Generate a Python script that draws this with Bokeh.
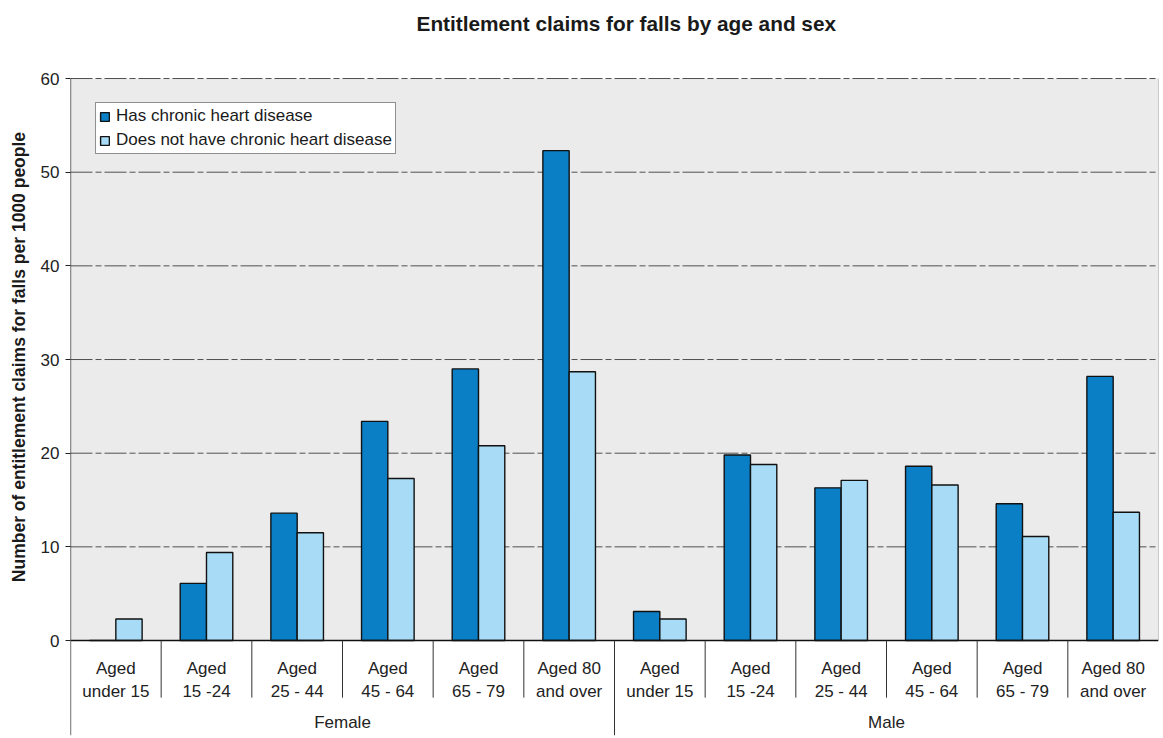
import math
from bokeh.plotting import figure
from bokeh.layouts import row
from bokeh.models import Range1d, FixedTicker, Legend, LegendItem, ColumnDataSource
from bokeh.core.properties import value
from bokeh.embed import file_html
from bokeh.resources import INLINE

# ---- data -------------------------------------------------------------
sexes = ["Female", "Male"]
age_line1 = ["Aged", "Aged", "Aged", "Aged", "Aged", "Aged 80"]
age_line2 = ["under 15", "15 -24", "25 - 44", "45 - 64", "65 - 79", "and over"]
series_names = ["Has chronic heart disease", "Does not have chronic heart disease"]

# claims per 1000 people, Female groups first, then Male
has_chd = [0.0, 6.1, 13.6, 23.4, 29.0, 52.3,
           3.1, 19.8, 16.3, 18.6, 14.6, 28.2]
no_chd = [2.3, 9.4, 11.5, 17.3, 20.8, 28.7,
          2.3, 18.8, 17.1, 16.6, 11.1, 13.7]

y_ticks = [0, 10, 20, 30, 40, 50, 60]

# ---- styling ----------------------------------------------------------
FONT = "Liberation Sans"
DARK_BLUE = "#0b7fc6"
LIGHT_BLUE = "#a8dcf6"
PLOT_BG = "#ebebeb"
INK = "#1a1a1a"

W, H = 1163, 738
CAPTION_W = 35

n_age = len(age_line1)
n_cat = n_age * len(sexes)
centers = [i + 0.5 for i in range(n_cat)]
y_top_val = max(y_ticks)

# ---- narrow strip holding the rotated y-axis caption -------------------
cap = figure(width=CAPTION_W, height=H, output_backend="svg", toolbar_location=None,
             x_range=Range1d(0, CAPTION_W), y_range=Range1d(0, H),
             x_axis_location=None, y_axis_location=None, title=None,
             min_border=0)
cap.outline_line_color = None
cap.xgrid.visible = False
cap.ygrid.visible = False
cap.text(x=[18], y=[H - 358], text=["Number of entitlement claims for falls per 1000 people"],
         angle=math.pi / 2, text_font=value(FONT), text_font_size="17.5px",
         text_font_style="bold", text_color=INK, text_align="center", text_baseline="middle")

# ---- main chart ------------------------------------------------------
# the frame reaches the top of the page (room for the heading) and the bottom
# (room for the category labels); the value area itself is 0..60
Y_MIN = -10.14
Y_MAX = 68.33
p = figure(width=W - CAPTION_W, height=H, output_backend="svg", toolbar_location=None,
           x_range=Range1d(0, n_cat), y_range=Range1d(Y_MIN, Y_MAX),
           x_axis_location=None, title=None,
           min_border_left=70 - CAPTION_W, min_border_right=5,
           min_border_top=0, min_border_bottom=3)
p.background_fill_color = "white"
p.border_fill_color = "white"
p.outline_line_color = None
p.xgrid.visible = False
p.ygrid.visible = False

# y axis: ticks and labels from Bokeh, the line itself drawn below
p.yaxis.ticker = FixedTicker(ticks=y_ticks)
p.yaxis.minor_tick_line_color = None
p.yaxis.major_tick_in = 0
p.yaxis.major_tick_out = 5
p.yaxis.major_tick_line_color = "#222222"
p.yaxis.axis_line_color = None
p.yaxis.major_label_standoff = 6
p.yaxis.major_label_text_font = FONT
p.yaxis.major_label_text_font_size = "17px"
p.yaxis.major_label_text_color = "#222222"

# grey value area
p.quad(left=0, right=n_cat, bottom=0, top=y_top_val, fill_color=PLOT_BG, line_color=None)

# horizontal gridlines
grid_vals = [t for t in y_ticks if t > 0]
p.segment(x0=[0] * len(grid_vals), y0=grid_vals, x1=[n_cat] * len(grid_vals), y1=grid_vals,
          line_color="#505050", line_width=1, line_dash="22 3 6 3")

# right edge of the value area
p.segment(x0=[n_cat], y0=[0], x1=[n_cat], y1=[y_top_val], line_color="#9a9a9a", line_width=1)

# bars
off = 0.145
bw = 0.29
src = ColumnDataSource(dict(
    x_has=[c - off for c in centers], x_no=[c + off for c in centers],
    has=has_chd, no=no_chd))
r_has = p.vbar(x="x_has", top="has", bottom=0, width=bw, source=src,
               fill_color=DARK_BLUE, line_color="#111111", line_width=1.4)
r_no = p.vbar(x="x_no", top="no", bottom=0, width=bw, source=src,
              fill_color=LIGHT_BLUE, line_color="#111111", line_width=1.4)

# zero line and the vertical axis line (runs on down past the labels)
p.segment(x0=[0], y0=[0], x1=[n_cat], y1=[0], line_color="#111111", line_width=1.6)
p.segment(x0=[0], y0=[Y_MIN], x1=[0], y1=[y_top_val], line_color="#222222", line_width=1.3)

# category dividers below the zero line
short_x = [i for i in range(1, n_cat) if i % n_age != 0]
p.segment(x0=short_x, y0=[0] * len(short_x), x1=short_x, y1=[-6.1] * len(short_x),
          line_color="#333333", line_width=1)
group_x = [i for i in range(n_age, n_cat, n_age)]
p.segment(x0=group_x, y0=[0] * len(group_x), x1=group_x, y1=[Y_MIN] * len(group_x),
          line_color="#333333", line_width=1)

# category labels (two lines) and group labels
p.text(x=centers, y=[-2.99] * n_cat, text=age_line1 * len(sexes),
       text_font=value(FONT), text_font_size="17px", text_color="#222222",
       text_align="center", text_baseline="middle")
p.text(x=centers, y=[-5.44] * n_cat, text=age_line2 * len(sexes),
       text_font=value(FONT), text_font_size="17px", text_color="#222222",
       text_align="center", text_baseline="middle")
p.text(x=[n_age * (k + 0.5) for k in range(len(sexes))], y=[-8.8] * len(sexes), text=sexes,
       text_font=value(FONT), text_font_size="17px", text_color="#222222",
       text_align="center", text_baseline="middle")

# heading
p.text(x=[6.13], y=[65.87], text=["Entitlement claims for falls by age and sex"],
       text_font=value(FONT), text_font_size="20.8px", text_font_style="bold",
       text_color=INK, text_align="center", text_baseline="alphabetic")

# legend
legend = Legend(items=[LegendItem(label=series_names[0], renderers=[r_has]),
                       LegendItem(label=series_names[1], renderers=[r_no])],
                location=(25, 581), orientation="vertical",
                padding=3, spacing=4, margin=0,
                glyph_width=11, glyph_height=11, label_standoff=6, label_height=19,
                label_text_font=FONT, label_text_font_size="17px", label_text_color=INK,
                border_line_color="#222222", border_line_width=1,
                background_fill_color="white", background_fill_alpha=1.0)
p.add_layout(legend)

layout = row(cap, p, spacing=0)
open("out.html", "w").write(file_html(layout, INLINE))
